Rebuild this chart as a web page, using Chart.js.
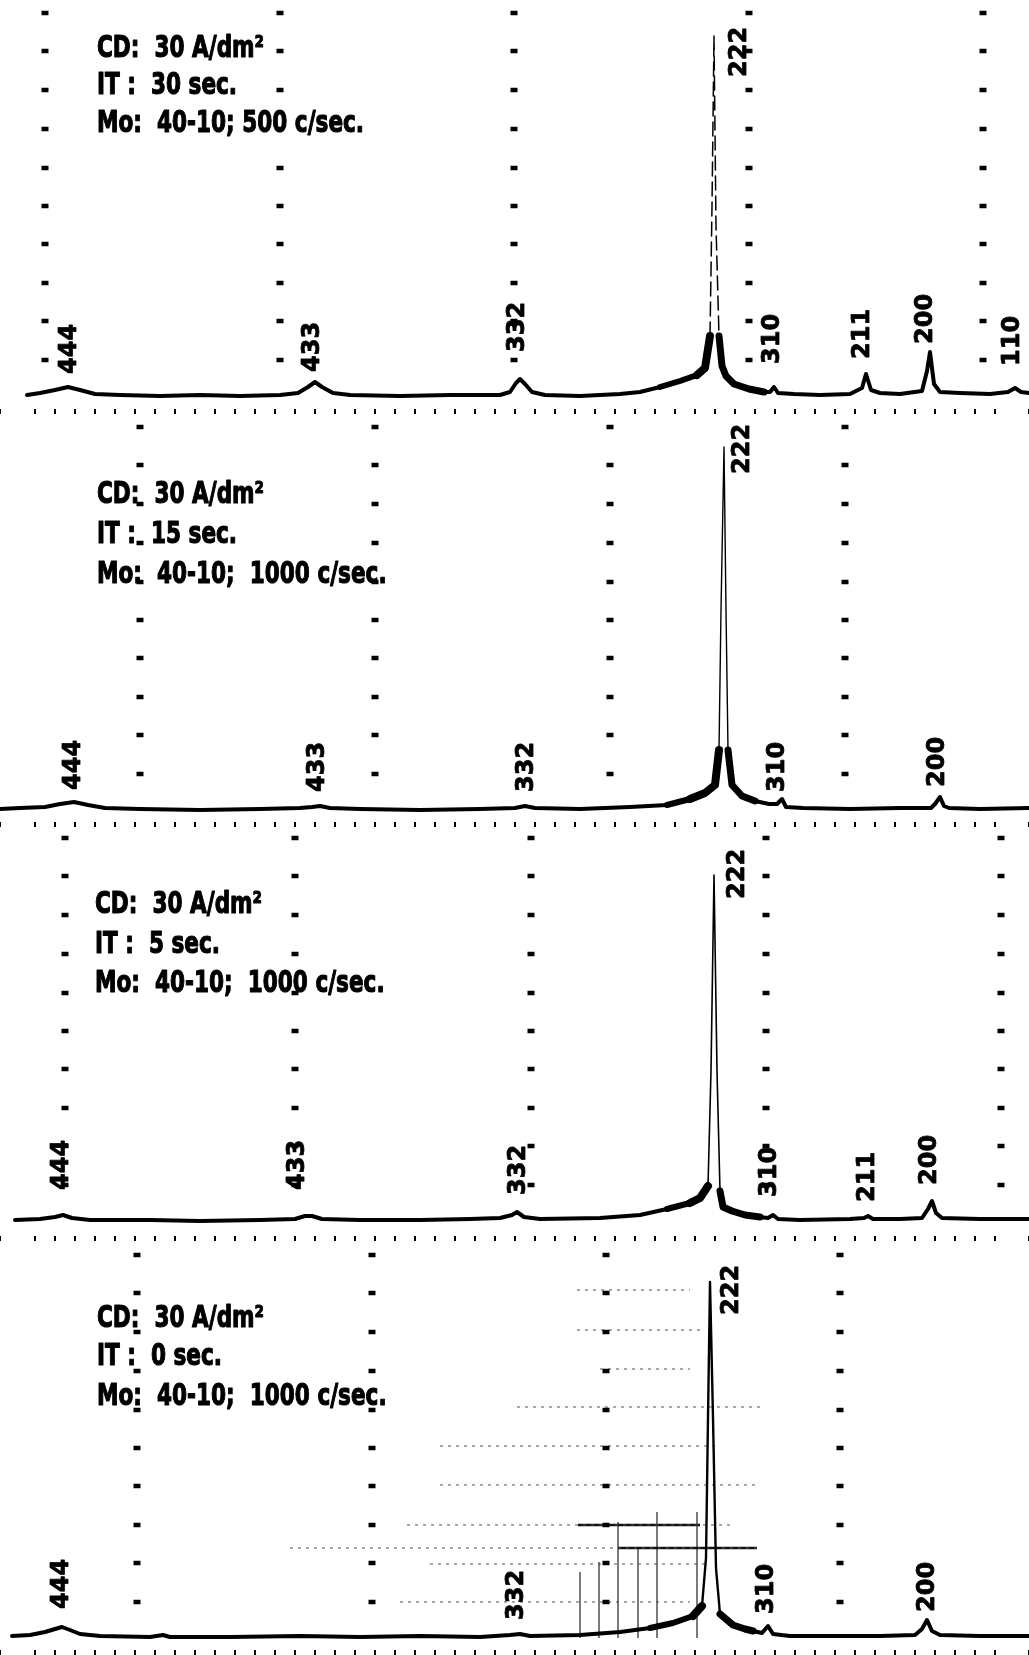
<!DOCTYPE html>
<html>
<head>
<meta charset="utf-8">
<title>X-ray diffraction patterns</title>
<script src="https://cdn.jsdelivr.net/npm/chart.js@4.4.0/dist/chart.umd.min.js"></script>
<style>
  html, body { margin: 0; padding: 0; background: #fff; }
  #wrap { position: relative; width: 1029px; height: 1655px; overflow: hidden; background: #fff; }
  .panel { position: absolute; left: 0; width: 1029px; height: 414px; }
</style>
</head>
<body>
<div id="wrap">
  <div class="panel" style="top:0px"><canvas id="c1" width="1029" height="414"></canvas></div>
  <div class="panel" style="top:413px"><canvas id="c2" width="1029" height="414"></canvas></div>
  <div class="panel" style="top:827px"><canvas id="c3" width="1029" height="414"></canvas></div>
  <div class="panel" style="top:1241px"><canvas id="c4" width="1029" height="414"></canvas></div>
</div>
<script>
// Diffraction traces (2-theta in deg, height above baseline)

// IT 30 sec
const p1TwoTheta = [118.8, 117.5, 116.0, 114.7, 113.5, 112.0, 109.5, 105.5, 101.5, 97.5, 93.5, 91.7, 90.7, 90.0, 89.3, 88.2, 86.5, 81.5, 76.5, 71.5, 70.5, 69.9, 69.5, 69.0, 68.3, 67.0, 63.5, 59.5, 57.5, 55.5, 53.5, 51.8, 51.0, 50.5, 50.3, 50.1, 49.9, 49.6, 49.3, 48.9, 48.1, 46.6, 45.1, 44.5, 44.1, 43.7, 42.1, 39.5, 36.5, 35.3, 34.9, 34.4, 33.5, 31.5, 29.3, 28.8, 28.5, 28.1, 27.5, 25.5, 22.5, 20.7, 20.0, 19.4, 18.6];
const p1Counts   = [1, 3, 6, 9, 6, 2, 1, 0, 1, 0, 1, 3, 9, 14, 9, 3, 1, 0, 1, 1, 4, 13, 17, 12, 4, 1, 0, 2, 4, 9, 15, 21, 28, 60, 190, 360, 170, 60, 30, 20, 12, 7, 4, 4, 9, 3, 2, 1, 2, 8, 22, 6, 3, 2, 5, 25, 44, 12, 4, 3, 2, 4, 8, 4, 3];

// IT 15 sec
const p2TwoTheta = [121.5, 119.5, 117.0, 115.5, 114.1, 112.7, 111.0, 107.5, 101.5, 95.5, 91.5, 90.3, 89.5, 88.5, 85.5, 79.5, 73.5, 70.0, 69.0, 68.0, 63.5, 58.5, 54.8, 52.5, 51.0, 50.0, 49.6, 49.4, 49.1, 48.9, 48.7, 48.3, 47.3, 46.0, 44.6, 43.8, 43.3, 42.9, 41.2, 36.5, 31.5, 28.4, 28.0, 27.5, 27.1, 26.6, 23.5, 18.6];
const p2Counts   = [1, 2, 3, 6, 8, 5, 2, 1, 0, 1, 2, 3, 4, 2, 1, 0, 1, 2, 4, 2, 1, 3, 5, 11, 17, 25, 60, 200, 363, 200, 60, 25, 14, 9, 6, 6, 11, 3, 2, 1, 2, 2, 6, 13, 4, 2, 1, 2];

// IT 5 sec
const p3TwoTheta = [120.0, 117.5, 116.0, 115.2, 114.3, 112.5, 106.5, 101.5, 95.5, 92.0, 91.0, 90.3, 89.3, 85.5, 79.5, 74.5, 71.5, 70.3, 69.8, 69.1, 67.5, 61.5, 57.5, 54.8, 52.5, 51.5, 50.7, 50.4, 50.1, 49.8, 49.5, 49.2, 48.3, 47.0, 45.5, 44.7, 44.2, 43.7, 41.5, 36.5, 35.1, 34.7, 34.2, 31.5, 29.3, 28.7, 28.3, 27.9, 27.3, 23.5, 18.6];
const p3Counts   = [1, 2, 4, 6, 3, 1, 1, 0, 1, 2, 5, 5, 2, 1, 1, 2, 3, 6, 9, 4, 2, 3, 6, 12, 18, 23, 35, 150, 346, 150, 30, 14, 10, 6, 4, 3, 6, 2, 1, 2, 3, 5, 2, 2, 3, 12, 20, 8, 3, 2, 2];

// IT 0 sec
const p4TwoTheta = [120.3, 118.5, 117.0, 116.0, 115.3, 114.5, 113.5, 111.5, 106.5, 105.2, 104.5, 98.5, 91.5, 85.5, 79.5, 73.5, 70.5, 69.5, 68.5, 63.5, 59.5, 56.5, 54.2, 52.2, 51.3, 50.9, 50.7, 50.5, 50.2, 49.9, 49.5, 48.2, 47.0, 46.2, 45.3, 44.7, 44.2, 42.5, 38.5, 33.5, 30.0, 29.3, 28.8, 28.3, 27.5, 23.5, 18.6];
const p4Counts   = [2, 3, 6, 9, 11, 8, 4, 2, 1, 3, 1, 1, 2, 1, 2, 1, 3, 4, 2, 3, 6, 10, 15, 22, 32, 80, 220, 356, 220, 70, 24, 13, 9, 7, 5, 12, 4, 2, 2, 2, 3, 9, 18, 7, 3, 2, 2];

// reflection labels
const p1Hkl = ['444', '433', '332', '222', '310', '211', '200', '110'];
const p2Hkl = ['444', '433', '332', '222', '310', '200'];
const p3Hkl = ['444', '433', '332', '222', '310', '211', '200'];
const p4Hkl = ['444', '332', '222', '310', '200'];

// chart paper timing marks (2-theta of each dotted column, heights of the dots)
const p1GridCols = [117.0, 93.5, 70.1, 46.6, 23.2];
const p2GridCols = [107.5, 84.0, 60.5, 37.0];
const p3GridCols = [115.0, 92.0, 68.4, 44.9, 21.4];
const p4GridCols = [107.8, 84.3, 60.9, 37.5];
const gridRows = [383, 345, 306, 267, 228, 190, 152, 113, 75, 36];

// ruled paper showing through on the last chart
const p4RuleH    = [348, 308, 269, 231, 192, 153, 113, 90, 74, 36];
const p4RuleFrom = [63.8, 63.8, 61.5, 69.8, 77.5, 77.5, 80.8, 92.5, 78.5, 81.5];
const p4RuleTo   = [52.5, 51.5, 52.5, 45.5, 49.5, 46.0, 48.5, 45.8, 50.5, 52.5];
const p4StrokeH    = [113, 90];
const p4StrokeFrom = [63.7, 59.7];
const p4StrokeTo   = [51.5, 45.8];
const p4PostX   = [63.5, 61.6, 59.7, 57.7, 55.8, 51.8];
const p4PostTop = [66, 76, 116, 91, 126, 126];

// run conditions
const p1Notes = ['CD:  30 A/dm²', 'IT :  30 sec.', 'Mo:  40-10; 500 c/sec.'];
const p2Notes = ['CD:  30 A/dm²', 'IT :  15 sec.', 'Mo:  40-10;  1000 c/sec.'];
const p3Notes = ['CD:  30 A/dm²', 'IT :  5 sec.', 'Mo:  40-10;  1000 c/sec.'];
const p4Notes = ['CD:  30 A/dm²', 'IT :  0 sec.', 'Mo:  40-10;  1000 c/sec.'];

const X_MIN = 18.6, X_MAX = 121.5;
const AREA_BOTTOM = 409; // canvas height minus tick marks

// layout of each panel
const panels = [
  { id: 'c1', base: 396, x: p1TwoTheta, y: p1Counts, cols: p1GridCols, hkl: p1Hkl, notes: p1Notes,
    labelAt: [[114.5, 22], [90.2, 24], [69.7, 44], [47.5, 319], [44.2, 32], [35.2, 37], [28.9, 52], [20.2, 30]],
    noteX: 97, noteY: [57, 94, 132], peakDash: [14, 6], peakWidth: 1.5 },
  { id: 'c2', base: 397, x: p2TwoTheta, y: p2Counts, cols: p2GridCols, hkl: p2Hkl, notes: p2Notes,
    labelAt: [[114.1, 20], [89.7, 18], [68.8, 18], [47.2, 336], [43.7, 18], [27.7, 23]],
    noteX: 97, noteY: [90, 130, 170], peakDash: [], peakWidth: 1.4 },
  { id: 'c3', base: 394, x: p3TwoTheta, y: p3Counts, cols: p3GridCols, hkl: p3Hkl, notes: p3Notes,
    labelAt: [[115.3, 31], [91.7, 31], [69.6, 26], [47.7, 322], [44.5, 24], [34.7, 19], [28.5, 36]],
    noteX: 95, noteY: [86, 126, 165], peakDash: [], peakWidth: 1.6 },
  { id: 'c4', base: 397, x: p4TwoTheta, y: p4Counts, cols: p4GridCols, hkl: p4Hkl, notes: p4Notes,
    labelAt: [[115.3, 29], [69.8, 18], [48.3, 323], [44.8, 24], [28.7, 26]],
    noteX: 97, noteY: [86, 124, 164], peakDash: [], peakWidth: 2.4, paper: true }
];

function isSteep(c) {
  const dx = Math.abs(c.p1.x - c.p0.x), dy = Math.abs(c.p1.y - c.p0.y);
  return dy > 40 && dy > 3 * dx;
}

// the pen smears into a dark band on the flanks of the big reflection
function flankWidth(x) {
  if (x > 49.9 && x < 53.0) return 8;
  if (x > 53.0 && x < 57.5) return 6;
  if (x > 46.5 && x <= 49.9) return 7;
  return 4;
}

function paperDatasets() {
  const sets = [];
  p4RuleH.forEach((h, i) => {
    sets.push({ data: [{ x: p4RuleFrom[i], y: h }, { x: p4RuleTo[i], y: h }],
      borderColor: '#555', borderWidth: 1.1, borderDash: [3, 5], pointRadius: 0 });
  });
  p4StrokeH.forEach((h, i) => {
    sets.push({ data: [{ x: p4StrokeFrom[i], y: h }, { x: p4StrokeTo[i], y: h }],
      borderColor: '#111', borderWidth: 2.4, pointRadius: 0 });
  });
  p4PostX.forEach((x, i) => {
    sets.push({ data: [{ x: x, y: 0 }, { x: x, y: p4PostTop[i] }],
      borderColor: '#333', borderWidth: 1.3, pointRadius: 0 });
  });
  return sets;
}

const annotate = {
  id: 'annotate',
  afterDatasetsDraw(chart, args, opts) {
    const p = opts.panel;
    const ctx = chart.ctx;
    const xs = chart.scales.x, ys = chart.scales.y;
    ctx.save();
    ctx.fillStyle = '#000';
    ctx.strokeStyle = '#000';
    ctx.lineJoin = 'round';

    // reflection indices, written upwards
    ctx.font = 'bold 24px "DejaVu Sans", sans-serif';
    ctx.textAlign = 'left';
    ctx.textBaseline = 'middle';
    ctx.lineWidth = 0.8;
    p.hkl.forEach((t, i) => {
      const px = xs.getPixelForValue(p.labelAt[i][0]);
      const py = ys.getPixelForValue(p.labelAt[i][1]);
      ctx.save();
      ctx.translate(px, py);
      ctx.rotate(-Math.PI / 2);
      ctx.fillText(t, 0, 0);
      ctx.strokeText(t, 0, 0);
      ctx.restore();
    });

    // run conditions, in a heavy condensed face
    ctx.font = 'bold 30px "DejaVu Sans", sans-serif';
    ctx.textBaseline = 'alphabetic';
    ctx.lineWidth = 1.2;
    p.notes.forEach((t, i) => {
      ctx.save();
      ctx.translate(p.noteX, p.noteY[i]);
      ctx.scale(0.72, 1);
      ctx.fillText(t, 0, 0);
      ctx.strokeText(t, 0, 0);
      ctx.restore();
    });
    ctx.restore();
  }
};

function makeChart(p) {
  const trace = p.x.map((x, i) => ({ x: x, y: p.y[i] }));
  const dots = [];
  p.cols.forEach(cx => gridRows.forEach(h => dots.push({ x: cx, y: h })));

  const datasets = [
    {
      data: trace,
      borderColor: '#000',
      borderWidth: 4,
      borderJoinStyle: 'round',
      borderCapStyle: 'round',
      pointRadius: 0,
      tension: 0,
      segment: {
        borderWidth: c => isSteep(c) ? p.peakWidth : flankWidth(c.p0.parsed.x),
        borderDash: c => isSteep(c) ? p.peakDash : []
      }
    },
    {
      data: dots,
      showLine: false,
      pointStyle: 'line',
      pointRadius: 3.5,
      pointBorderWidth: 4.5,
      pointBorderColor: '#000',
      pointBackgroundColor: '#000'
    }
  ];
  if (p.paper) paperDatasets().forEach(d => datasets.push(d));

  return new Chart(document.getElementById(p.id), {
    type: 'line',
    data: { datasets: datasets },
    plugins: [annotate],
    options: {
      responsive: false,
      animation: false,
      devicePixelRatio: 1,
      layout: { padding: 0, autoPadding: false },
      plugins: {
        legend: { display: false },
        tooltip: { enabled: false },
        annotate: { panel: p }
      },
      scales: {
        x: {
          type: 'linear',
          min: X_MIN,
          max: X_MAX,
          reverse: true,
          border: { display: false },
          ticks: { display: false, stepSize: 2 },
          grid: { drawOnChartArea: false, drawTicks: true, tickLength: 5, color: '#000', lineWidth: 2 }
        },
        y: {
          display: false,
          min: p.base - AREA_BOTTOM,
          max: p.base
        }
      }
    }
  });
}

document.addEventListener('DOMContentLoaded', () => {
  panels.forEach(makeChart);
});
</script>
</body>
</html>
